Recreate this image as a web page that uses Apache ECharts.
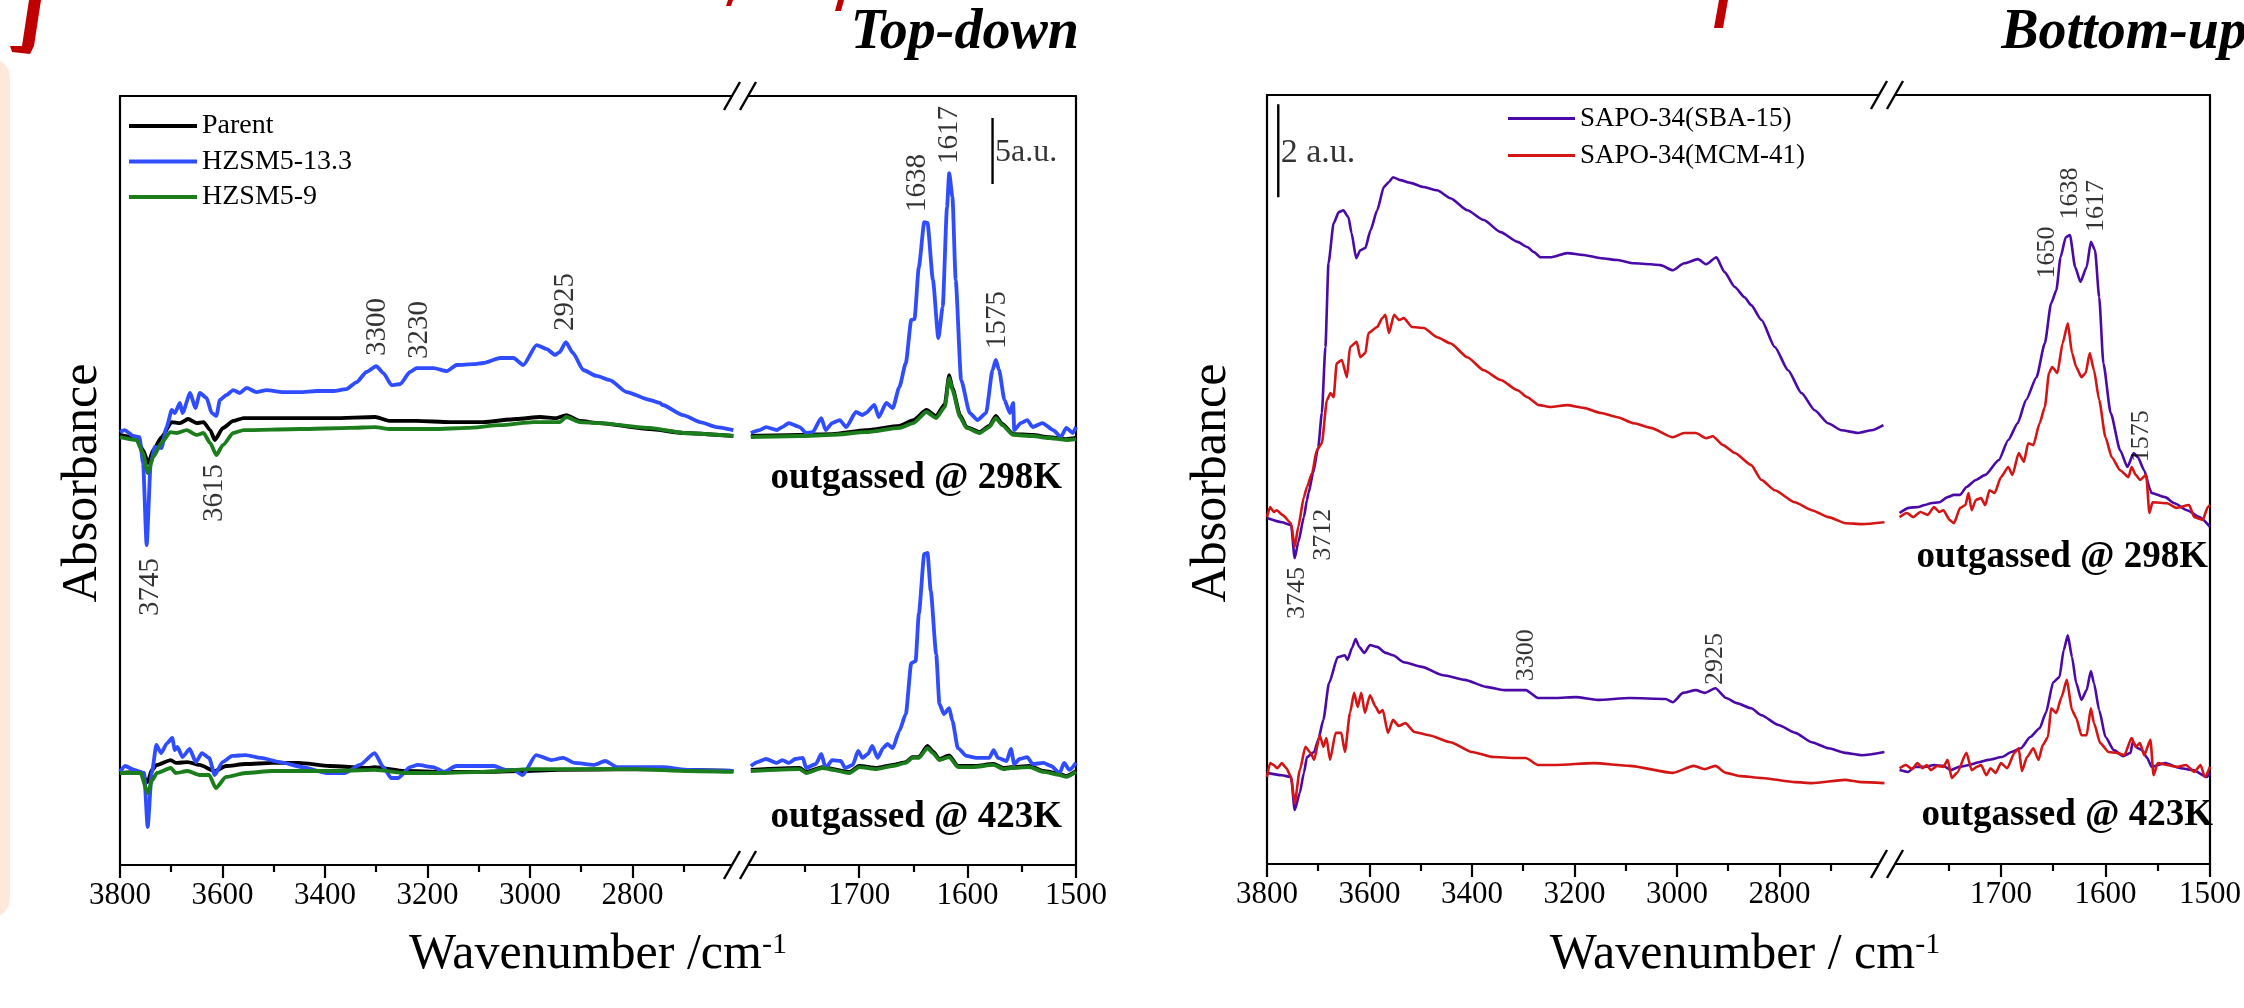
<!DOCTYPE html>
<html><head><meta charset="utf-8">
<script src="https://cdn.jsdelivr.net/npm/echarts@6/dist/echarts.min.js"></script>
<style>html,body{margin:0;padding:0;background:#fff;}#c{width:2244px;height:1008px;}</style>
</head><body><div id="c"></div>
<script>
// ---------- Top-down panel (absorbance, a.u.) ----------
// Hi = 3800-2600 cm-1 segment, Lo = 1800-1500 cm-1 segment
const tdParent298Hi = [[3800,32.58],[3768,32.35],[3755,31.44],[3745,30.45],[3735,31.44],[3719,32.42],[3699,33.56],[3683,33.48],[3667,33.79],[3650,33.48],[3637,33.56],[3624,32.95],[3615,32.20],[3599,33.11],[3579,33.64],[3559,33.86],[3514,33.86],[3449,33.86],[3384,33.86],[3302,33.94],[3273,33.64],[3221,33.64],[3156,33.56],[3091,33.56],[3026,33.79],[2980,33.94],[2948,33.86],[2929,34.09],[2903,33.64],[2864,33.48],[2766,33.03],[2700,32.73],[2603,32.50]];
const tdParent298Lo = [[1800,32.50],[1755,32.58],[1725,32.65],[1694,32.95],[1663,33.26],[1650,33.71],[1638,34.47],[1629,34.02],[1621,34.92],[1617,37.12],[1614,36.14],[1607,34.09],[1601,33.18],[1589,32.80],[1580,33.26],[1574,34.02],[1568,33.41],[1558,32.65],[1540,32.58],[1525,32.42],[1509,32.27],[1500,32.35]];
const tdH133_298Hi = [[3800,32.80],[3791,32.95],[3774,32.50],[3762,32.42],[3755,30.45],[3748,24.24],[3740,30.45],[3732,31.67],[3719,31.59],[3709,33.18],[3699,34.47],[3693,34.24],[3683,35.00],[3678,34.24],[3663,35.76],[3653,34.62],[3644,35.76],[3631,35.38],[3621,34.24],[3612,34.02],[3605,35.23],[3592,35.61],[3579,35.98],[3566,35.76],[3553,36.14],[3534,35.83],[3514,35.98],[3482,35.83],[3449,35.83],[3416,35.91],[3384,35.91],[3358,36.06],[3338,36.59],[3319,37.35],[3300,37.80],[3286,37.27],[3270,36.36],[3253,36.44],[3234,37.35],[3221,37.65],[3188,37.65],[3162,37.42],[3143,37.88],[3110,37.95],[3091,38.03],[3058,38.41],[3032,38.41],[3013,37.88],[2987,39.39],[2967,39.09],[2951,38.64],[2942,38.86],[2930,39.62],[2916,38.79],[2896,37.50],[2870,37.05],[2844,36.74],[2811,35.83],[2766,35.23],[2746,35.00],[2741,34.85],[2701,34.09],[2668,33.56],[2636,33.18],[2603,32.95]];
const tdH133_298Lo = [[1800,32.73],[1792,32.95],[1786,33.18],[1776,32.95],[1771,33.18],[1765,33.48],[1755,33.18],[1749,32.73],[1743,32.80],[1735,33.86],[1731,32.95],[1725,33.48],[1718,33.71],[1712,33.18],[1703,34.32],[1697,34.09],[1694,34.24],[1686,34.85],[1682,33.94],[1675,35.00],[1669,34.62],[1663,36.21],[1657,38.03],[1652,41.29],[1649,41.36],[1645,45.30],[1640,48.71],[1637,48.64],[1632,44.32],[1627,39.92],[1623,42.27],[1619,49.85],[1617,52.42],[1614,50.61],[1611,44.32],[1606,36.74],[1598,34.24],[1591,33.71],[1583,34.24],[1577,37.50],[1574,38.26],[1571,37.50],[1566,35.23],[1561,34.24],[1558,35.00],[1557,32.95],[1551,33.48],[1545,33.71],[1540,33.18],[1531,33.48],[1521,32.95],[1514,32.42],[1509,33.11],[1503,32.73],[1500,33.18]];
const tdH9_298Hi = [[3800,32.42],[3768,32.20],[3755,31.21],[3746,29.70],[3735,30.91],[3719,31.97],[3702,32.80],[3689,32.73],[3670,32.95],[3650,32.58],[3637,32.73],[3624,31.97],[3612,31.06],[3599,31.82],[3579,32.73],[3559,32.95],[3449,33.03],[3351,33.11],[3302,33.18],[3273,33.03],[3188,33.03],[3123,33.11],[3058,33.33],[2993,33.56],[2942,33.56],[2929,33.94],[2903,33.56],[2864,33.48],[2766,33.11],[2700,32.73],[2603,32.50]];
const tdH9_298Lo = [[1800,32.42],[1755,32.50],[1725,32.58],[1694,32.80],[1663,33.11],[1650,33.48],[1638,34.32],[1629,33.86],[1621,34.70],[1617,36.89],[1614,35.98],[1607,33.94],[1601,33.11],[1589,32.73],[1580,33.18],[1574,33.86],[1568,33.33],[1558,32.58],[1540,32.50],[1525,32.35],[1509,32.20],[1500,32.27]];
const tdParent423Hi = [[3800,6.97],[3760,7.05],[3746,6.29],[3738,7.20],[3728,7.58],[3701,7.95],[3691,7.73],[3668,7.80],[3645,7.58],[3615,7.12],[3593,7.50],[3555,7.65],[3503,7.73],[3451,7.73],[3391,7.50],[3316,7.35],[3303,7.42],[3244,7.12],[3169,7.05],[3093,7.05],[3019,7.12],[2944,7.20],[2793,7.27],[2689,7.20],[2603,7.12]];
const tdParent423Lo = [[1800,7.20],[1755,7.35],[1749,7.05],[1734,7.42],[1709,7.05],[1700,7.50],[1684,7.35],[1669,7.58],[1657,7.80],[1651,8.18],[1645,8.18],[1637,9.02],[1632,8.60],[1626,8.03],[1617,8.30],[1609,7.50],[1595,7.50],[1576,7.65],[1567,7.35],[1560,7.42],[1543,7.50],[1530,7.12],[1515,6.90],[1509,6.75],[1500,7.12]];
const tdH133_423Hi = [[3800,7.05],[3790,7.50],[3772,7.20],[3753,6.97],[3746,2.88],[3738,6.97],[3729,9.09],[3720,8.48],[3708,9.24],[3698,9.62],[3693,8.71],[3688,8.94],[3678,8.18],[3664,8.79],[3652,7.80],[3640,8.48],[3626,8.11],[3615,6.82],[3600,7.80],[3581,8.26],[3555,8.33],[3525,8.11],[3488,7.80],[3443,7.42],[3398,6.97],[3361,6.97],[3332,7.58],[3303,8.48],[3286,7.42],[3271,6.59],[3257,6.59],[3234,7.42],[3219,7.58],[3189,7.42],[3167,7.05],[3144,7.50],[3092,7.50],[3070,7.50],[3047,7.20],[3032,7.20],[3014,6.82],[2988,8.33],[2958,7.95],[2935,8.11],[2913,7.73],[2875,7.58],[2853,7.88],[2830,7.42],[2793,7.42],[2741,7.42],[2689,7.20],[2603,7.12]];
const tdH133_423Lo = [[1800,7.50],[1794,7.80],[1786,8.03],[1776,7.73],[1771,7.95],[1765,7.73],[1759,8.03],[1752,8.11],[1749,7.35],[1740,7.65],[1735,8.41],[1731,7.35],[1725,7.95],[1717,7.88],[1713,7.35],[1706,7.58],[1701,8.64],[1697,8.11],[1692,8.41],[1688,9.02],[1683,8.11],[1678,8.86],[1674,9.17],[1669,8.86],[1663,10.15],[1657,11.44],[1652,15.30],[1648,15.45],[1645,19.02],[1640,23.56],[1637,23.64],[1634,20.76],[1629,15.98],[1626,12.20],[1622,11.44],[1617,11.89],[1614,10.91],[1609,8.86],[1601,8.26],[1592,8.11],[1580,8.11],[1576,8.71],[1572,8.11],[1564,7.88],[1560,8.79],[1557,7.65],[1552,8.03],[1545,8.18],[1540,7.65],[1530,7.73],[1523,7.50],[1515,6.97],[1511,7.73],[1506,7.20],[1500,7.73]];
const tdH9_423Hi = [[3800,6.97],[3760,6.97],[3746,5.45],[3737,6.44],[3728,6.97],[3701,7.35],[3691,6.97],[3668,7.12],[3645,6.82],[3626,6.82],[3613,5.83],[3593,6.67],[3555,6.97],[3503,7.12],[3391,7.12],[3303,7.20],[3244,6.97],[3169,6.97],[3093,7.05],[2996,7.27],[2793,7.27],[2689,7.12],[2603,7.05]];
const tdH9_423Lo = [[1800,7.12],[1755,7.27],[1749,6.97],[1734,7.35],[1709,6.97],[1700,7.42],[1684,7.27],[1669,7.50],[1657,7.73],[1651,8.11],[1645,8.11],[1637,8.86],[1632,8.48],[1626,7.95],[1617,8.18],[1609,7.42],[1595,7.42],[1576,7.58],[1567,7.27],[1560,7.35],[1543,7.42],[1530,7.05],[1515,6.82],[1509,6.67],[1500,7.05]];

// ---------- Bottom-up panel (absorbance, a.u.) ----------
const buSBA298Hi = [[3800,7.44],[3771,7.35],[3753,7.29],[3746,6.58],[3739,6.92],[3728,7.46],[3722,7.83],[3719,7.98],[3710,8.41],[3700,8.97],[3693,9.70],[3686,11.12],[3680,12.92],[3670,13.78],[3660,14.02],[3651,14.06],[3641,13.91],[3635,13.57],[3626,13.03],[3618,13.20],[3608,13.25],[3598,13.63],[3585,14.06],[3572,14.56],[3562,14.67],[3554,14.77],[3540,14.71],[3520,14.65],[3494,14.56],[3468,14.49],[3442,14.32],[3409,14.06],[3377,13.85],[3344,13.59],[3311,13.38],[3292,13.27],[3279,13.16],[3266,13.05],[3247,13.05],[3214,13.14],[3182,13.10],[3148,13.03],[3116,12.99],[3084,12.92],[3051,12.90],[3032,12.88],[3008,12.77],[2986,12.92],[2959,13.01],[2943,12.90],[2923,13.05],[2907,12.73],[2887,12.41],[2868,12.19],[2855,12.02],[2835,11.70],[2809,11.12],[2783,10.62],[2757,10.13],[2731,9.76],[2705,9.48],[2679,9.33],[2646,9.27],[2620,9.33],[2597,9.44]];
const buSBA298Lo = [[1797,7.55],[1788,7.66],[1779,7.68],[1773,7.72],[1767,7.76],[1759,7.78],[1751,7.89],[1745,7.94],[1739,7.94],[1733,8.11],[1724,8.26],[1715,8.37],[1702,8.69],[1693,9.12],[1684,9.48],[1676,9.98],[1666,10.47],[1658,11.20],[1652,12.06],[1647,12.34],[1643,13.05],[1638,13.48],[1634,13.53],[1629,12.84],[1624,12.52],[1618,12.84],[1614,13.38],[1610,13.20],[1606,12.19],[1602,10.77],[1595,9.70],[1586,8.90],[1579,8.54],[1573,8.84],[1569,8.75],[1563,8.47],[1557,8.04],[1556,7.98],[1543,7.89],[1534,7.76],[1522,7.61],[1510,7.46],[1500,7.25]];
const buMCM298Hi = [[3800,7.46],[3794,7.68],[3787,7.57],[3781,7.61],[3770,7.51],[3753,7.33],[3746,6.82],[3739,7.25],[3728,7.89],[3722,8.11],[3712,8.41],[3703,8.90],[3693,9.05],[3683,9.98],[3676,10.13],[3670,10.04],[3664,10.77],[3654,10.84],[3644,10.47],[3638,11.12],[3625,11.23],[3618,10.90],[3608,10.99],[3602,11.42],[3585,11.55],[3575,11.74],[3569,11.81],[3562,11.42],[3552,11.81],[3542,11.70],[3533,11.74],[3517,11.55],[3494,11.53],[3468,11.33],[3442,11.20],[3409,10.90],[3377,10.62],[3344,10.41],[3311,10.19],[3292,10.04],[3269,9.87],[3247,9.83],[3214,9.87],[3182,9.81],[3148,9.70],[3116,9.61],[3084,9.48],[3051,9.38],[3008,9.18],[2986,9.27],[2963,9.27],[2943,9.16],[2930,9.20],[2910,9.01],[2887,8.84],[2855,8.58],[2835,8.26],[2809,8.04],[2770,7.78],[2737,7.61],[2704,7.46],[2671,7.33],[2639,7.31],[2595,7.35]];
const buMCM298Lo = [[1797,7.46],[1790,7.55],[1784,7.46],[1777,7.57],[1770,7.51],[1764,7.68],[1759,7.57],[1755,7.61],[1749,7.40],[1745,7.33],[1739,7.66],[1734,7.72],[1731,7.98],[1728,7.61],[1724,7.83],[1719,7.87],[1715,7.72],[1711,8.04],[1706,7.98],[1700,8.32],[1693,8.54],[1689,8.37],[1683,8.84],[1678,8.65],[1674,9.05],[1669,9.01],[1663,9.48],[1658,9.83],[1654,10.56],[1651,10.69],[1646,10.56],[1641,11.20],[1636,11.63],[1632,10.99],[1628,10.69],[1623,10.47],[1619,10.56],[1615,10.99],[1611,10.62],[1606,9.98],[1600,9.18],[1594,8.75],[1586,8.47],[1578,8.32],[1575,8.54],[1571,8.37],[1567,8.26],[1561,8.37],[1558,7.55],[1555,7.78],[1541,7.76],[1532,7.66],[1520,7.72],[1515,7.46],[1507,7.40],[1502,7.68],[1500,7.72]];
const buSBA423Hi = [[3800,1.96],[3771,1.91],[3753,1.87],[3746,1.16],[3736,1.53],[3728,1.96],[3722,2.30],[3708,2.41],[3700,2.67],[3690,3.10],[3679,3.89],[3662,4.45],[3648,4.49],[3643,4.39],[3634,4.65],[3627,4.84],[3620,4.67],[3610,4.54],[3599,4.71],[3585,4.67],[3568,4.54],[3554,4.49],[3533,4.34],[3498,4.24],[3456,4.06],[3414,3.96],[3372,3.81],[3337,3.74],[3295,3.74],[3271,3.57],[3236,3.57],[3197,3.59],[3155,3.53],[3092,3.57],[3022,3.55],[3008,3.48],[2988,3.68],[2963,3.74],[2946,3.68],[2925,3.78],[2904,3.57],[2883,3.46],[2855,3.35],[2835,3.20],[2802,2.99],[2769,2.82],[2737,2.62],[2704,2.49],[2672,2.39],[2639,2.34],[2595,2.41]];
const buSBA423Lo = [[1797,2.02],[1789,1.98],[1782,2.09],[1773,2.09],[1764,2.13],[1755,2.11],[1748,2.02],[1740,2.09],[1730,2.13],[1721,2.19],[1712,2.24],[1699,2.30],[1690,2.41],[1681,2.49],[1672,2.73],[1663,2.92],[1657,3.25],[1650,3.91],[1644,4.02],[1640,4.60],[1636,4.92],[1632,4.45],[1628,3.89],[1623,3.53],[1618,3.74],[1614,4.15],[1611,3.89],[1606,3.31],[1600,2.73],[1592,2.45],[1583,2.32],[1576,2.39],[1574,2.62],[1569,2.49],[1565,2.45],[1560,2.28],[1556,2.09],[1543,2.17],[1528,2.06],[1516,2.02],[1503,1.87],[1500,1.96]];
const buMCM423Hi = [[3800,1.87],[3794,2.17],[3787,2.13],[3780,2.06],[3771,2.17],[3762,2.06],[3753,1.87],[3746,1.31],[3736,2.02],[3725,2.52],[3715,2.39],[3708,2.24],[3697,2.77],[3690,2.52],[3684,2.71],[3677,2.24],[3666,2.82],[3655,2.82],[3648,2.41],[3638,3.25],[3630,3.68],[3623,3.38],[3616,3.68],[3609,3.25],[3599,3.63],[3588,3.38],[3581,3.25],[3574,3.31],[3564,2.82],[3554,3.10],[3543,2.97],[3530,3.03],[3512,2.84],[3484,2.77],[3442,2.62],[3400,2.41],[3358,2.30],[3316,2.28],[3295,2.28],[3271,2.13],[3236,2.13],[3162,2.17],[3092,2.11],[3008,1.96],[2967,2.11],[2946,2.04],[2925,2.11],[2904,1.96],[2876,1.89],[2835,1.85],[2769,1.76],[2737,1.74],[2672,1.81],[2639,1.76],[2595,1.74]];
const buMCM423Lo = [[1797,2.06],[1791,2.13],[1785,2.04],[1780,2.17],[1775,2.06],[1771,2.13],[1767,2.02],[1761,2.11],[1755,2.09],[1751,2.24],[1747,1.85],[1742,1.96],[1733,2.39],[1728,2.02],[1723,2.09],[1719,2.13],[1714,1.91],[1710,2.06],[1705,1.96],[1700,2.17],[1694,2.06],[1687,2.39],[1683,2.49],[1680,2.00],[1675,2.30],[1669,2.49],[1664,2.24],[1660,2.56],[1655,2.73],[1652,3.35],[1647,3.25],[1642,3.59],[1637,3.96],[1632,3.31],[1628,3.14],[1623,2.77],[1618,2.77],[1614,3.35],[1611,3.03],[1605,2.60],[1597,2.41],[1589,2.39],[1582,2.34],[1575,2.71],[1571,2.52],[1567,2.60],[1563,2.34],[1557,2.67],[1554,1.91],[1550,2.17],[1541,2.13],[1532,2.09],[1523,2.13],[1515,1.98],[1509,2.13],[1505,1.87],[1500,2.09]];

// ---------- Axis ticks / labels ----------
const hiMajor = [2800, 3000, 3200, 3400, 3600, 3800];
const hiMinor = [2700, 2900, 3100, 3300, 3500, 3700];
const loMajor = [1500, 1600, 1700];
const loMinor = [1550, 1650, 1750];

// ---------- Peak annotations [wavenumber, a.u., text] ----------
const tdPeaksHi = [[3298, 40.76, '3300'], [3215, 40.53, '3230'], [2930, 42.65, '2925'], [3615, 28.18, '3615'], [3741, 21.06, '3745']];
const tdPeaksLo = [[1646, 51.67, '1638'], [1617, 55.30, '1617'], [1572.5, 41.29, '1575']];
const buPeaksHi = [[3741, 5.83, '3745'], [3690, 7.08, '3712'], [3295, 4.49, '3300'], [2925, 4.41, '2925']];
const buPeaksLo = [[1656, 13.15, '1650'], [1634, 14.42, '1638'], [1609, 14.15, '1617'], [1566, 9.20, '1575']];
// scale bars
const tdScaleBar = [[1577, 51.59], [1577, 56.59]];   // 5 a.u.
const buScaleBar = [[3778, 14.34], [3778, 16.34]];   // 2 a.u.

const F = "'Liberation Serif', 'Times New Roman', serif";
const C = { parent: '#000000', h133: '#2f4dff', h9: '#1b7d1b', sba: '#4a0aa8', mcm: '#d41515' };

const chart = echarts.init(document.getElementById('c'), null, { renderer: 'canvas' });

const panels = [
  { hiLeft: 120, brk: 740, right: 1076, top: 96, bottom: 865, ymax: 58.26, loMax: 1810 },
  { hiLeft: 1267, brk: 1887, right: 2224, top: 95, bottom: 864, ymax: 16.54, loMax: 1809 }
];
const grids = [], xAxes = [], yAxes = [];
panels.forEach((p, pi) => {
  const h = p.bottom - p.top;
  grids.push({ left: p.hiLeft, top: p.top, width: p.brk - p.hiLeft, height: h });
  grids.push({ left: p.brk, top: p.top, width: p.right - p.brk, height: h });
  [[2590, 3800, hiMajor, hiMinor], [1500, p.loMax, loMajor, loMinor]].forEach((s, si) => {
    const gi = pi * 2 + si;
    const base = { type: 'value', gridIndex: gi, min: s[0], max: s[1], inverse: true, splitLine: { show: false } };
    xAxes.push(Object.assign({}, base, {
      position: 'bottom',
      axisLine: { show: true, onZero: false, lineStyle: { color: '#000', width: 2.2 } },
      axisTick: { show: true, inside: false, length: 13, customValues: s[2], lineStyle: { color: '#000', width: 2.2 } },
      axisLabel: { show: true, customValues: s[2], margin: 15, fontSize: 31, fontFamily: F, color: '#000', formatter: v => String(v) }
    }));
    xAxes.push(Object.assign({}, base, {
      position: 'bottom',
      axisLine: { show: false },
      axisTick: { show: true, inside: false, length: 7, customValues: s[3], lineStyle: { color: '#000', width: 2.2 } },
      axisLabel: { show: false }
    }));
    xAxes.push(Object.assign({}, base, {
      position: 'top',
      axisLine: { show: true, onZero: false, lineStyle: { color: '#000', width: 2.2 } },
      axisTick: { show: false }, axisLabel: { show: false }
    }));
    yAxes.push({
      type: 'value', gridIndex: gi, min: 0, max: p.ymax, position: si === 0 ? 'left' : 'right',
      axisLine: { show: true, onZero: false, lineStyle: { color: '#000', width: 2.2 } },
      axisTick: { show: false }, axisLabel: { show: false }, splitLine: { show: false }
    });
  });
});

function ln(name, color, width, data, gi, z) {
  return { type: 'line', name, data, xAxisIndex: gi * 3, yAxisIndex: gi, showSymbol: false, symbol: 'none',
    smooth: 0.2, smoothMonotone: 'x', lineStyle: { color, width }, itemStyle: { color }, z, silent: true, animation: false };
}
function txt(data, gi, fontSize, rotate, position, fontWeight) {
  return { type: 'scatter', data: data.map(d => ({ value: [d[0], d[1]], name: d[2] })), xAxisIndex: gi * 3, yAxisIndex: gi,
    symbolSize: 1, itemStyle: { color: 'rgba(0,0,0,0)' }, silent: true, z: 30, animation: false,
    label: { show: true, position: position || 'inside', distance: 2, rotate: rotate, formatter: p => p.name,
      fontSize, fontFamily: F, color: '#000', fontWeight: fontWeight || 'normal' } };
}
const W1 = 3.8, W2 = 2.6;
const series = [
  ln('Parent', C.parent, W1, tdParent298Hi, 0, 3), ln('HZSM5-13.3', C.h133, W1, tdH133_298Hi, 0, 4), ln('HZSM5-9', C.h9, W1, tdH9_298Hi, 0, 5),
  ln('Parent', C.parent, W1, tdParent423Hi, 0, 3), ln('HZSM5-13.3', C.h133, W1, tdH133_423Hi, 0, 4), ln('HZSM5-9', C.h9, W1, tdH9_423Hi, 0, 5),
  ln('Parent', C.parent, W1, tdParent298Lo, 1, 3), ln('HZSM5-13.3', C.h133, W1, tdH133_298Lo, 1, 4), ln('HZSM5-9', C.h9, W1, tdH9_298Lo, 1, 5),
  ln('Parent', C.parent, W1, tdParent423Lo, 1, 3), ln('HZSM5-13.3', C.h133, W1, tdH133_423Lo, 1, 4), ln('HZSM5-9', C.h9, W1, tdH9_423Lo, 1, 5),
  ln('SAPO-34(SBA-15)', C.sba, W2, buSBA298Hi, 2, 3), ln('SAPO-34(MCM-41)', C.mcm, W2, buMCM298Hi, 2, 4),
  ln('SAPO-34(SBA-15)', C.sba, W2, buSBA423Hi, 2, 3), ln('SAPO-34(MCM-41)', C.mcm, W2, buMCM423Hi, 2, 4),
  ln('SAPO-34(SBA-15)', C.sba, W2, buSBA298Lo, 3, 3), ln('SAPO-34(MCM-41)', C.mcm, W2, buMCM298Lo, 3, 4),
  ln('SAPO-34(SBA-15)', C.sba, W2, buSBA423Lo, 3, 3), ln('SAPO-34(MCM-41)', C.mcm, W2, buMCM423Lo, 3, 4),
  ln('scale-td', '#000', 2.4, tdScaleBar, 1, 6), ln('scale-bu', '#000', 2.4, buScaleBar, 2, 6),
  txt(tdPeaksHi, 0, 29, 90), txt(tdPeaksLo, 1, 29, 90),
  txt(buPeaksHi, 2, 26, 90), txt(buPeaksLo, 3, 26, 90),
  txt([[1577, 54.0, '5a.u.']], 1, 32, 0, 'right'),
  txt([[3778, 15.29, '2 a.u.']], 2, 34, 0, 'right')
];

function brk(x, y) {
  return [
    { type: 'polygon', z: 100, shape: { points: [[x - 16, y + 14], [x, y - 14], [x + 16, y - 14], [x, y + 14]] }, style: { fill: '#fff' } },
    { type: 'line', z: 101, shape: { x1: x - 16, y1: y + 14, x2: x, y2: y - 14 }, style: { stroke: '#000', lineWidth: 2.4 } },
    { type: 'line', z: 101, shape: { x1: x, y1: y + 14, x2: x + 16, y2: y - 14 }, style: { stroke: '#000', lineWidth: 2.4 } }
  ];
}
function gtext(x, y, text, size, opts) {
  return Object.assign({ type: 'text', x, y, z: 100, style: Object.assign({ text, fontSize: size, fontFamily: F, fill: '#000',
    align: 'center', verticalAlign: 'middle', textAlign: 'center', textVerticalAlign: 'middle' }, opts && opts.style) }, opts && opts.el);
}
function redStroke(x, y, w, h, slant) {
  return { type: 'polygon', z: 90, shape: { points: [[x + slant, y], [x + slant + w, y], [x + w, y + h], [x, y + h]] }, style: { fill: '#c00000' } };
}
const supRich = { s: { fontSize: 30, fontFamily: F, fill: '#000', verticalAlign: 'top' } };
const titleStyle = { align: 'right', textAlign: 'right', fontStyle: 'italic', fontWeight: 'bold' };
const graphic = [].concat(
  brk(740, 96), brk(740, 865), brk(1887, 95), brk(1887, 864),
  [
    // cropped slide decoration at the left edge and top
    { type: 'rect', z: 1, shape: { x: -30, y: 58, width: 40, height: 860, r: 28 }, style: { fill: '#fde8da' } },
    redStroke(22, 0, 12, 46, 7),
    { type: 'polygon', z: 90, shape: { points: [[22, 46], [34, 46], [30, 54], [12, 52], [10, 46]] }, style: { fill: '#c00000' } },
    redStroke(726, 0, 5, 6, 2), redStroke(835, 0, 6, 11, 3), redStroke(1714, 0, 9, 28, 5),
    gtext(83, 483, 'Absorbance', 50, { el: { rotation: Math.PI / 2 } }),
    gtext(1212, 483, 'Absorbance', 50, { el: { rotation: Math.PI / 2 } }),
    gtext(598, 955, 'Wavenumber /cm{s|-1}', 50, { style: { rich: supRich } }),
    gtext(1745, 955, 'Wavenumber / cm{s|-1}', 50, { style: { rich: supRich } }),
    gtext(1079, 34, 'Top-down', 56, { style: titleStyle }),
    gtext(2247, 34, 'Bottom-up', 56, { style: titleStyle }),
    gtext(1062, 478, 'outgassed @ 298K', 37, { style: { align: 'right', textAlign: 'right', fontWeight: 'bold' } }),
    gtext(1062, 817, 'outgassed @ 423K', 37, { style: { align: 'right', textAlign: 'right', fontWeight: 'bold' } }),
    gtext(2208, 557, 'outgassed @ 298K', 37, { style: { align: 'right', textAlign: 'right', fontWeight: 'bold' } }),
    gtext(2213, 815, 'outgassed @ 423K', 37, { style: { align: 'right', textAlign: 'right', fontWeight: 'bold' } })
  ]
);

chart.setOption({
  animation: false,
  backgroundColor: '#ffffff',
  textStyle: { fontFamily: F },
  grid: grids, xAxis: xAxes, yAxis: yAxes, series,
  legend: [
    { data: ['Parent', 'HZSM5-13.3', 'HZSM5-9'], left: 129, top: 112, orient: 'vertical', icon: 'rect', itemWidth: 68, itemHeight: 4,
      itemGap: 7.5, padding: 0, selectedMode: false, textStyle: { fontFamily: F, fontSize: 28, color: '#000', lineHeight: 28 } },
    { data: ['SAPO-34(SBA-15)', 'SAPO-34(MCM-41)'], left: 1508, top: 105, orient: 'vertical', icon: 'rect', itemWidth: 67, itemHeight: 3,
      itemGap: 10, padding: 0, selectedMode: false, textStyle: { fontFamily: F, fontSize: 27, color: '#000', lineHeight: 27 } }
  ],
  graphic
});
</script></body></html>
